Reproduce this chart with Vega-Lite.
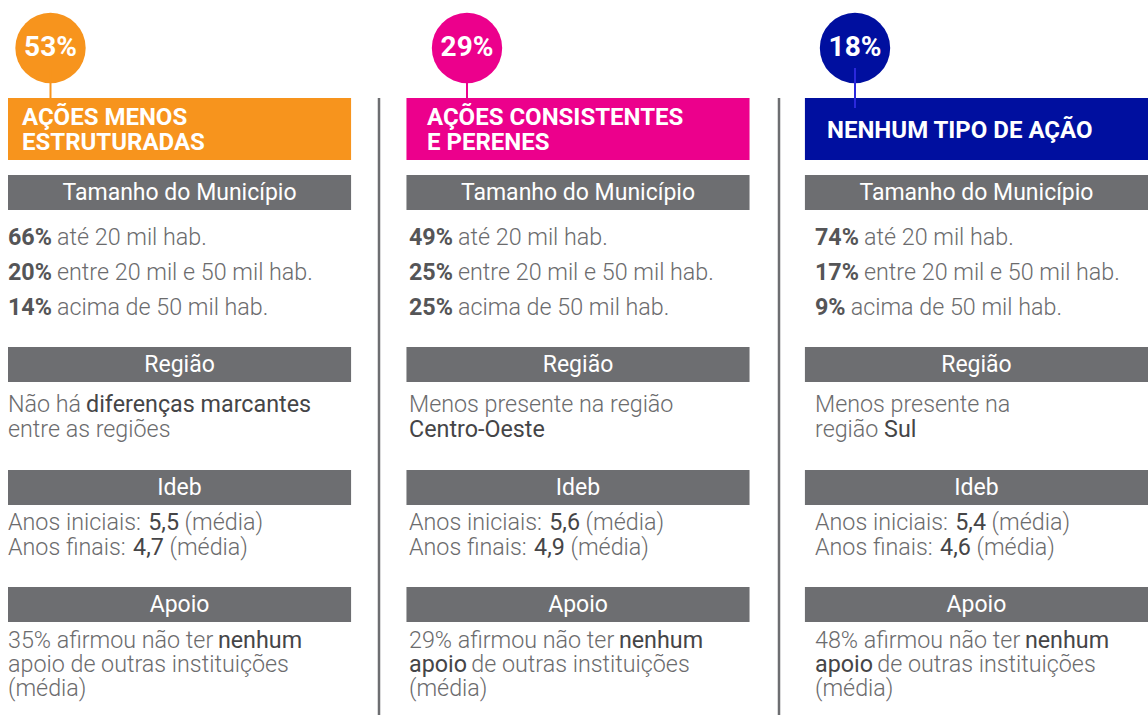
{
  "$schema": "https://vega.github.io/schema/vega-lite/v6.json",
  "width": 1148,
  "height": 715,
  "autosize": {"type": "none"},
  "padding": 0,
  "background": "white",
  "config": {
    "view": {"stroke": null},
    "font": "Roboto",
    "locale": {"number": {"decimal": ",", "thousands": ".", "grouping": [3], "currency": ["R$", ""]}}
  },
  "datasets": {
    "acoes": [
      {"col": "Ações menos estruturadas", "idx": 1, "share": 0.53, "title": "AÇÕES MENOS\nESTRUTURADAS"},
      {"col": "Ações consistentes e perenes", "idx": 2, "share": 0.29, "title": "AÇÕES CONSISTENTES\nE PERENES"},
      {"col": "Nenhum tipo de ação", "idx": 3, "share": 0.18, "title": "NENHUM TIPO DE AÇÃO"}
    ],
    "secoes": [
      {"col": "Ações menos estruturadas", "section": "Tamanho do Município", "row": 7, "row2": 9},
      {"col": "Ações menos estruturadas", "section": "Região", "row": 13, "row2": 15},
      {"col": "Ações menos estruturadas", "section": "Ideb", "row": 18, "row2": 20},
      {"col": "Ações menos estruturadas", "section": "Apoio", "row": 23, "row2": 25},
      {"col": "Ações consistentes e perenes", "section": "Tamanho do Município", "row": 7, "row2": 9},
      {"col": "Ações consistentes e perenes", "section": "Região", "row": 13, "row2": 15},
      {"col": "Ações consistentes e perenes", "section": "Ideb", "row": 18, "row2": 20},
      {"col": "Ações consistentes e perenes", "section": "Apoio", "row": 23, "row2": 25},
      {"col": "Nenhum tipo de ação", "section": "Tamanho do Município", "row": 7, "row2": 9},
      {"col": "Nenhum tipo de ação", "section": "Região", "row": 13, "row2": 15},
      {"col": "Nenhum tipo de ação", "section": "Ideb", "row": 18, "row2": 20},
      {"col": "Nenhum tipo de ação", "section": "Apoio", "row": 23, "row2": 25}
    ],
    "tamanho": [
      {"col": "Ações menos estruturadas", "idx": 1, "row": 10, "share": 0.66, "faixa": "até 20 mil hab."},
      {"col": "Ações menos estruturadas", "idx": 1, "row": 11, "share": 0.20, "faixa": "entre 20 mil e 50 mil hab."},
      {"col": "Ações menos estruturadas", "idx": 1, "row": 12, "share": 0.14, "faixa": "acima de 50 mil hab."},
      {"col": "Ações consistentes e perenes", "idx": 2, "row": 10, "share": 0.49, "faixa": "até 20 mil hab."},
      {"col": "Ações consistentes e perenes", "idx": 2, "row": 11, "share": 0.25, "faixa": "entre 20 mil e 50 mil hab."},
      {"col": "Ações consistentes e perenes", "idx": 2, "row": 12, "share": 0.25, "faixa": "acima de 50 mil hab."},
      {"col": "Nenhum tipo de ação", "idx": 3, "row": 10, "share": 0.74, "faixa": "até 20 mil hab."},
      {"col": "Nenhum tipo de ação", "idx": 3, "row": 11, "share": 0.17, "faixa": "entre 20 mil e 50 mil hab."},
      {"col": "Nenhum tipo de ação", "idx": 3, "row": 12, "share": 0.09, "faixa": "acima de 50 mil hab."}
    ],
    "ideb": [
      {"col": "Ações menos estruturadas", "idx": 1, "row": 21, "etapa": "Anos iniciais:", "media": 5.5},
      {"col": "Ações menos estruturadas", "idx": 1, "row": 22, "etapa": "Anos finais:", "media": 4.7},
      {"col": "Ações consistentes e perenes", "idx": 2, "row": 21, "etapa": "Anos iniciais:", "media": 5.6},
      {"col": "Ações consistentes e perenes", "idx": 2, "row": 22, "etapa": "Anos finais:", "media": 4.9},
      {"col": "Nenhum tipo de ação", "idx": 3, "row": 21, "etapa": "Anos iniciais:", "media": 5.4},
      {"col": "Nenhum tipo de ação", "idx": 3, "row": 22, "etapa": "Anos finais:", "media": 4.6}
    ],
    "textos": [
      {"col": "Ações menos estruturadas", "idx": 1, "row": 16, "a": "Não há", "b": "diferenças marcantes", "c": ""},
      {"col": "Ações menos estruturadas", "idx": 1, "row": 17, "a": "entre as regiões", "b": "", "c": ""},
      {"col": "Ações menos estruturadas", "idx": 1, "row": 26, "a": "35% afirmou não ter", "b": "nenhum", "c": ""},
      {"col": "Ações menos estruturadas", "idx": 1, "row": 27, "a": "apoio de outras instituições", "b": "", "c": ""},
      {"col": "Ações menos estruturadas", "idx": 1, "row": 28, "a": "(média)", "b": "", "c": ""},
      {"col": "Ações consistentes e perenes", "idx": 2, "row": 16, "a": "Menos presente na região", "b": "", "c": ""},
      {"col": "Ações consistentes e perenes", "idx": 2, "row": 17, "a": "", "b": "Centro-Oeste", "c": ""},
      {"col": "Ações consistentes e perenes", "idx": 2, "row": 26, "a": "29% afirmou não ter", "b": "nenhum", "c": ""},
      {"col": "Ações consistentes e perenes", "idx": 2, "row": 27, "a": "", "b": "apoio", "c": "de outras instituições"},
      {"col": "Ações consistentes e perenes", "idx": 2, "row": 28, "a": "(média)", "b": "", "c": ""},
      {"col": "Nenhum tipo de ação", "idx": 3, "row": 16, "a": "Menos presente na", "b": "", "c": ""},
      {"col": "Nenhum tipo de ação", "idx": 3, "row": 17, "a": "região", "b": "Sul", "c": ""},
      {"col": "Nenhum tipo de ação", "idx": 3, "row": 26, "a": "48% afirmou não ter", "b": "nenhum", "c": ""},
      {"col": "Nenhum tipo de ação", "idx": 3, "row": 27, "a": "", "b": "apoio", "c": "de outras instituições"},
      {"col": "Nenhum tipo de ação", "idx": 3, "row": 28, "a": "(média)", "b": "", "c": ""}
    ]
  },
  "resolve": {"scale": {"x": "independent", "y": "independent", "color": "independent"}},
  "layer": [
    {
      "data": {"name": "acoes"},
      "mark": {"type": "rect"},
      "encoding": {
        "x": {"field": "col", "type": "nominal", "axis": null, "scale": {"type": "band", "domain": ["Ações menos estruturadas", "Ações consistentes e perenes", "Nenhum tipo de ação"], "range": [8, 1148], "paddingInner": 0.139, "paddingOuter": 0}},
        "y": {"datum": 3, "type": "quantitative", "axis": null, "scale": {"domain": [0,1,2,3,4,5,6,7,8,9,10,11,12,13,14,15,16,17,18,19,20,21,22,23,24,25,26,27,28,29], "range": [0,48,68,98,108,130,160,175,192.5,210,237.5,272.5,307.5,347,364.5,382,405,430,470,487.5,505,523,548,587,604.5,622,641,665,689,715], "zero": false, "nice": false}},
        "y2": {"datum": 6},
        "color": {"field": "col", "type": "nominal", "legend": null, "scale": {"domain": ["Ações menos estruturadas", "Ações consistentes e perenes", "Nenhum tipo de ação"], "range": ["#F7941D", "#EC008C", "#000F9F"]}}
      }
    },
    {
      "data": {"name": "acoes"},
      "mark": {"type": "circle", "size": 4950, "opacity": 1},
      "encoding": {
        "x": {"field": "idx", "type": "quantitative", "axis": null, "scale": {"domain": [1, 2, 3], "range": [50.5, 467, 855], "zero": false, "nice": false}},
        "y": {"datum": 1, "type": "quantitative", "axis": null, "scale": {"domain": [0,1,2,3,4,5,6,7,8,9,10,11,12,13,14,15,16,17,18,19,20,21,22,23,24,25,26,27,28,29], "range": [0,48,68,98,108,130,160,175,192.5,210,237.5,272.5,307.5,347,364.5,382,405,430,470,487.5,505,523,548,587,604.5,622,641,665,689,715], "zero": false, "nice": false}},
        "color": {"field": "col", "type": "nominal", "legend": null, "scale": {"domain": ["Ações menos estruturadas", "Ações consistentes e perenes", "Nenhum tipo de ação"], "range": ["#F7941D", "#EC008C", "#000F9F"]}}
      }
    },
    {
      "data": {"name": "acoes"},
      "mark": {"type": "rule", "strokeWidth": 2},
      "encoding": {
        "x": {"field": "idx", "type": "quantitative", "axis": null, "scale": {"domain": [1, 2, 3], "range": [50.5, 467, 855], "zero": false, "nice": false}},
        "y": {"datum": 2, "type": "quantitative", "axis": null, "scale": {"domain": [0,1,2,3,4,5,6,7,8,9,10,11,12,13,14,15,16,17,18,19,20,21,22,23,24,25,26,27,28,29], "range": [0,48,68,98,108,130,160,175,192.5,210,237.5,272.5,307.5,347,364.5,382,405,430,470,487.5,505,523,548,587,604.5,622,641,665,689,715], "zero": false, "nice": false}},
        "y2": {"datum": 4},
        "color": {"field": "col", "type": "nominal", "legend": null, "scale": {"domain": ["Ações menos estruturadas", "Ações consistentes e perenes", "Nenhum tipo de ação"], "range": ["#F7941D", "#EC008C", "#2A28DC"]}}
      }
    },
    {
      "data": {"name": "acoes"},
      "mark": {"type": "text", "align": "center", "baseline": "middle", "fontSize": 28, "fontWeight": "bold", "color": "white"},
      "encoding": {
        "text": {"field": "share", "type": "quantitative", "format": ".0%"},
        "x": {"field": "idx", "type": "quantitative", "axis": null, "scale": {"domain": [1, 2, 3], "range": [50.5, 467, 855], "zero": false, "nice": false}},
        "y": {"datum": 1, "type": "quantitative", "axis": null, "scale": {"domain": [0,1,2,3,4,5,6,7,8,9,10,11,12,13,14,15,16,17,18,19,20,21,22,23,24,25,26,27,28,29], "range": [0,48,68,98,108,130,160,175,192.5,210,237.5,272.5,307.5,347,364.5,382,405,430,470,487.5,505,523,548,587,604.5,622,641,665,689,715], "zero": false, "nice": false}}
      }
    },
    {
      "data": {"name": "acoes"},
      "transform": [{"filter": "datum.idx < 3"}],
      "mark": {"type": "text", "align": "left", "baseline": "middle", "fontSize": 24, "fontWeight": "bold", "color": "white", "lineBreak": "\n", "lineHeight": 25, "dy": -12.5},
      "encoding": {
        "text": {"field": "title", "type": "nominal"},
        "x": {"field": "idx", "type": "quantitative", "axis": null, "scale": {"domain": [1, 2, 3], "range": [22, 427, 827], "zero": false, "nice": false}},
        "y": {"datum": 5, "type": "quantitative", "axis": null, "scale": {"domain": [0,1,2,3,4,5,6,7,8,9,10,11,12,13,14,15,16,17,18,19,20,21,22,23,24,25,26,27,28,29], "range": [0,48,68,98,108,130,160,175,192.5,210,237.5,272.5,307.5,347,364.5,382,405,430,470,487.5,505,523,548,587,604.5,622,641,665,689,715], "zero": false, "nice": false}}
      }
    },
    {
      "data": {"name": "acoes"},
      "transform": [{"filter": "datum.idx == 3"}],
      "mark": {"type": "text", "align": "left", "baseline": "middle", "fontSize": 24, "fontWeight": "bold", "color": "white", "dy": 1},
      "encoding": {
        "text": {"field": "title", "type": "nominal"},
        "x": {"field": "idx", "type": "quantitative", "axis": null, "scale": {"domain": [1, 2, 3], "range": [22, 427, 827], "zero": false, "nice": false}},
        "y": {"datum": 5, "type": "quantitative", "axis": null, "scale": {"domain": [0,1,2,3,4,5,6,7,8,9,10,11,12,13,14,15,16,17,18,19,20,21,22,23,24,25,26,27,28,29], "range": [0,48,68,98,108,130,160,175,192.5,210,237.5,272.5,307.5,347,364.5,382,405,430,470,487.5,505,523,548,587,604.5,622,641,665,689,715], "zero": false, "nice": false}}
      }
    },
    {
      "data": {"name": "acoes"},
      "transform": [{"filter": "datum.idx > 1"}],
      "mark": {"type": "rule", "strokeWidth": 2.5, "color": "#6D6E71"},
      "encoding": {
        "x": {"field": "idx", "type": "quantitative", "axis": null, "scale": {"domain": [2, 3], "range": [379, 779], "zero": false, "nice": false}},
        "y": {"datum": 3, "type": "quantitative", "axis": null, "scale": {"domain": [0,1,2,3,4,5,6,7,8,9,10,11,12,13,14,15,16,17,18,19,20,21,22,23,24,25,26,27,28,29], "range": [0,48,68,98,108,130,160,175,192.5,210,237.5,272.5,307.5,347,364.5,382,405,430,470,487.5,505,523,548,587,604.5,622,641,665,689,715], "zero": false, "nice": false}},
        "y2": {"datum": 29}
      }
    },
    {
      "data": {"name": "secoes"},
      "mark": {"type": "rect", "color": "#6D6E71"},
      "encoding": {
        "x": {"field": "col", "type": "nominal", "axis": null, "scale": {"type": "band", "domain": ["Ações menos estruturadas", "Ações consistentes e perenes", "Nenhum tipo de ação"], "range": [8, 1148], "paddingInner": 0.139, "paddingOuter": 0}},
        "y": {"field": "row", "type": "quantitative", "axis": null, "scale": {"domain": [0,1,2,3,4,5,6,7,8,9,10,11,12,13,14,15,16,17,18,19,20,21,22,23,24,25,26,27,28,29], "range": [0,48,68,98,108,130,160,175,192.5,210,237.5,272.5,307.5,347,364.5,382,405,430,470,487.5,505,523,548,587,604.5,622,641,665,689,715], "zero": false, "nice": false}},
        "y2": {"field": "row2"}
      }
    },
    {
      "data": {"name": "secoes"},
      "mark": {"type": "text", "align": "center", "baseline": "middle", "fontSize": 23, "fontWeight": 400, "color": "white", "dy": 17.5},
      "encoding": {
        "text": {"field": "section", "type": "nominal"},
        "x": {"field": "col", "type": "nominal", "axis": null, "scale": {"type": "band", "domain": ["Ações menos estruturadas", "Ações consistentes e perenes", "Nenhum tipo de ação"], "range": [8, 1148], "paddingInner": 0.139, "paddingOuter": 0}},
        "y": {"field": "row", "type": "quantitative", "axis": null, "scale": {"domain": [0,1,2,3,4,5,6,7,8,9,10,11,12,13,14,15,16,17,18,19,20,21,22,23,24,25,26,27,28,29], "range": [0,48,68,98,108,130,160,175,192.5,210,237.5,272.5,307.5,347,364.5,382,405,430,470,487.5,505,523,548,587,604.5,622,641,665,689,715], "zero": false, "nice": false}}
      }
    },
    {
      "data": {"name": "tamanho"},
      "mark": {"type": "text", "align": "left", "baseline": "middle", "fontSize": 23.3, "fontWeight": 700, "color": "#555557"},
      "encoding": {
        "text": {"field": "share", "type": "quantitative", "format": ".0%"},
        "x": {"field": "idx", "type": "quantitative", "axis": null, "scale": {"domain": [1, 2, 3], "range": [8, 409, 815], "zero": false, "nice": false}},
        "y": {"field": "row", "type": "quantitative", "axis": null, "scale": {"domain": [0,1,2,3,4,5,6,7,8,9,10,11,12,13,14,15,16,17,18,19,20,21,22,23,24,25,26,27,28,29], "range": [0,48,68,98,108,130,160,175,192.5,210,237.5,272.5,307.5,347,364.5,382,405,430,470,487.5,505,523,548,587,604.5,622,641,665,689,715], "zero": false, "nice": false}}
      }
    },
    {
      "data": {"name": "tamanho"},
      "transform": [{"filter": "datum.share >= 0.1"}],
      "mark": {"type": "text", "align": "left", "baseline": "middle", "fontSize": 23.3, "fontWeight": 300, "color": "#6B6B6D", "dx": 49},
      "encoding": {
        "text": {"field": "faixa", "type": "nominal"},
        "x": {"field": "idx", "type": "quantitative", "axis": null, "scale": {"domain": [1, 2, 3], "range": [8, 409, 815], "zero": false, "nice": false}},
        "y": {"field": "row", "type": "quantitative", "axis": null, "scale": {"domain": [0,1,2,3,4,5,6,7,8,9,10,11,12,13,14,15,16,17,18,19,20,21,22,23,24,25,26,27,28,29], "range": [0,48,68,98,108,130,160,175,192.5,210,237.5,272.5,307.5,347,364.5,382,405,430,470,487.5,505,523,548,587,604.5,622,641,665,689,715], "zero": false, "nice": false}}
      }
    },
    {
      "data": {"name": "tamanho"},
      "transform": [{"filter": "datum.share < 0.1"}],
      "mark": {"type": "text", "align": "left", "baseline": "middle", "fontSize": 23.3, "fontWeight": 300, "color": "#6B6B6D", "dx": 35.7},
      "encoding": {
        "text": {"field": "faixa", "type": "nominal"},
        "x": {"field": "idx", "type": "quantitative", "axis": null, "scale": {"domain": [1, 2, 3], "range": [8, 409, 815], "zero": false, "nice": false}},
        "y": {"field": "row", "type": "quantitative", "axis": null, "scale": {"domain": [0,1,2,3,4,5,6,7,8,9,10,11,12,13,14,15,16,17,18,19,20,21,22,23,24,25,26,27,28,29], "range": [0,48,68,98,108,130,160,175,192.5,210,237.5,272.5,307.5,347,364.5,382,405,430,470,487.5,505,523,548,587,604.5,622,641,665,689,715], "zero": false, "nice": false}}
      }
    },
    {
      "data": {"name": "ideb"},
      "mark": {"type": "text", "align": "left", "baseline": "middle", "fontSize": 23.3, "fontWeight": 300, "color": "#6B6B6D"},
      "encoding": {
        "text": {"field": "etapa", "type": "nominal"},
        "x": {"field": "idx", "type": "quantitative", "axis": null, "scale": {"domain": [1, 2, 3], "range": [8, 409, 815], "zero": false, "nice": false}},
        "y": {"field": "row", "type": "quantitative", "axis": null, "scale": {"domain": [0,1,2,3,4,5,6,7,8,9,10,11,12,13,14,15,16,17,18,19,20,21,22,23,24,25,26,27,28,29], "range": [0,48,68,98,108,130,160,175,192.5,210,237.5,272.5,307.5,347,364.5,382,405,430,470,487.5,505,523,548,587,604.5,622,641,665,689,715], "zero": false, "nice": false}}
      }
    },
    {
      "data": {"name": "ideb"},
      "transform": [{"filter": "datum.etapa == 'Anos iniciais:'"}],
      "mark": {"type": "text", "align": "left", "baseline": "middle", "fontSize": 23.3, "fontWeight": 400, "color": "#454547", "dx": 140.2},
      "encoding": {
        "text": {"field": "media", "type": "quantitative", "format": ".1f"},
        "x": {"field": "idx", "type": "quantitative", "axis": null, "scale": {"domain": [1, 2, 3], "range": [8, 409, 815], "zero": false, "nice": false}},
        "y": {"field": "row", "type": "quantitative", "axis": null, "scale": {"domain": [0,1,2,3,4,5,6,7,8,9,10,11,12,13,14,15,16,17,18,19,20,21,22,23,24,25,26,27,28,29], "range": [0,48,68,98,108,130,160,175,192.5,210,237.5,272.5,307.5,347,364.5,382,405,430,470,487.5,505,523,548,587,604.5,622,641,665,689,715], "zero": false, "nice": false}}
      }
    },
    {
      "data": {"name": "ideb"},
      "transform": [{"filter": "datum.etapa == 'Anos finais:'"}],
      "mark": {"type": "text", "align": "left", "baseline": "middle", "fontSize": 23.3, "fontWeight": 400, "color": "#454547", "dx": 125.1},
      "encoding": {
        "text": {"field": "media", "type": "quantitative", "format": ".1f"},
        "x": {"field": "idx", "type": "quantitative", "axis": null, "scale": {"domain": [1, 2, 3], "range": [8, 409, 815], "zero": false, "nice": false}},
        "y": {"field": "row", "type": "quantitative", "axis": null, "scale": {"domain": [0,1,2,3,4,5,6,7,8,9,10,11,12,13,14,15,16,17,18,19,20,21,22,23,24,25,26,27,28,29], "range": [0,48,68,98,108,130,160,175,192.5,210,237.5,272.5,307.5,347,364.5,382,405,430,470,487.5,505,523,548,587,604.5,622,641,665,689,715], "zero": false, "nice": false}}
      }
    },
    {
      "data": {"name": "ideb"},
      "transform": [{"filter": "datum.etapa == 'Anos iniciais:'"}],
      "mark": {"type": "text", "align": "left", "baseline": "middle", "fontSize": 23.3, "fontWeight": 300, "color": "#6B6B6D", "dx": 176.6},
      "encoding": {
        "text": {"value": "(média)"},
        "x": {"field": "idx", "type": "quantitative", "axis": null, "scale": {"domain": [1, 2, 3], "range": [8, 409, 815], "zero": false, "nice": false}},
        "y": {"field": "row", "type": "quantitative", "axis": null, "scale": {"domain": [0,1,2,3,4,5,6,7,8,9,10,11,12,13,14,15,16,17,18,19,20,21,22,23,24,25,26,27,28,29], "range": [0,48,68,98,108,130,160,175,192.5,210,237.5,272.5,307.5,347,364.5,382,405,430,470,487.5,505,523,548,587,604.5,622,641,665,689,715], "zero": false, "nice": false}}
      }
    },
    {
      "data": {"name": "ideb"},
      "transform": [{"filter": "datum.etapa == 'Anos finais:'"}],
      "mark": {"type": "text", "align": "left", "baseline": "middle", "fontSize": 23.3, "fontWeight": 300, "color": "#6B6B6D", "dx": 161.5},
      "encoding": {
        "text": {"value": "(média)"},
        "x": {"field": "idx", "type": "quantitative", "axis": null, "scale": {"domain": [1, 2, 3], "range": [8, 409, 815], "zero": false, "nice": false}},
        "y": {"field": "row", "type": "quantitative", "axis": null, "scale": {"domain": [0,1,2,3,4,5,6,7,8,9,10,11,12,13,14,15,16,17,18,19,20,21,22,23,24,25,26,27,28,29], "range": [0,48,68,98,108,130,160,175,192.5,210,237.5,272.5,307.5,347,364.5,382,405,430,470,487.5,505,523,548,587,604.5,622,641,665,689,715], "zero": false, "nice": false}}
      }
    },
    {
      "data": {"name": "textos"},
      "transform": [{"filter": "datum.a != ''"}],
      "mark": {"type": "text", "align": "left", "baseline": "middle", "fontSize": 23.3, "fontWeight": 300, "color": "#6B6B6D"},
      "encoding": {
        "text": {"field": "a", "type": "nominal"},
        "x": {"field": "idx", "type": "quantitative", "axis": null, "scale": {"domain": [1, 2, 3], "range": [8, 409, 815], "zero": false, "nice": false}},
        "y": {"field": "row", "type": "quantitative", "axis": null, "scale": {"domain": [0,1,2,3,4,5,6,7,8,9,10,11,12,13,14,15,16,17,18,19,20,21,22,23,24,25,26,27,28,29], "range": [0,48,68,98,108,130,160,175,192.5,210,237.5,272.5,307.5,347,364.5,382,405,430,470,487.5,505,523,548,587,604.5,622,641,665,689,715], "zero": false, "nice": false}}
      }
    },
    {
      "data": {"name": "textos"},
      "transform": [{"filter": "datum.a == '' && datum.b != ''"}],
      "mark": {"type": "text", "align": "left", "baseline": "middle", "fontSize": 23.3, "fontWeight": 400, "color": "#454547"},
      "encoding": {
        "text": {"field": "b", "type": "nominal"},
        "x": {"field": "idx", "type": "quantitative", "axis": null, "scale": {"domain": [1, 2, 3], "range": [8, 409, 815], "zero": false, "nice": false}},
        "y": {"field": "row", "type": "quantitative", "axis": null, "scale": {"domain": [0,1,2,3,4,5,6,7,8,9,10,11,12,13,14,15,16,17,18,19,20,21,22,23,24,25,26,27,28,29], "range": [0,48,68,98,108,130,160,175,192.5,210,237.5,272.5,307.5,347,364.5,382,405,430,470,487.5,505,523,548,587,604.5,622,641,665,689,715], "zero": false, "nice": false}}
      }
    },
    {
      "data": {"name": "textos"},
      "transform": [{"filter": "datum.a == 'Não há'"}],
      "mark": {"type": "text", "align": "left", "baseline": "middle", "fontSize": 23.3, "fontWeight": 400, "color": "#454547", "dx": 78},
      "encoding": {
        "text": {"field": "b", "type": "nominal"},
        "x": {"field": "idx", "type": "quantitative", "axis": null, "scale": {"domain": [1, 2, 3], "range": [8, 409, 815], "zero": false, "nice": false}},
        "y": {"field": "row", "type": "quantitative", "axis": null, "scale": {"domain": [0,1,2,3,4,5,6,7,8,9,10,11,12,13,14,15,16,17,18,19,20,21,22,23,24,25,26,27,28,29], "range": [0,48,68,98,108,130,160,175,192.5,210,237.5,272.5,307.5,347,364.5,382,405,430,470,487.5,505,523,548,587,604.5,622,641,665,689,715], "zero": false, "nice": false}}
      }
    },
    {
      "data": {"name": "textos"},
      "transform": [{"filter": "indexof(datum.a, 'afirmou') >= 0"}],
      "mark": {"type": "text", "align": "left", "baseline": "middle", "fontSize": 23.3, "fontWeight": 400, "color": "#454547", "dx": 209.9},
      "encoding": {
        "text": {"field": "b", "type": "nominal"},
        "x": {"field": "idx", "type": "quantitative", "axis": null, "scale": {"domain": [1, 2, 3], "range": [8, 409, 815], "zero": false, "nice": false}},
        "y": {"field": "row", "type": "quantitative", "axis": null, "scale": {"domain": [0,1,2,3,4,5,6,7,8,9,10,11,12,13,14,15,16,17,18,19,20,21,22,23,24,25,26,27,28,29], "range": [0,48,68,98,108,130,160,175,192.5,210,237.5,272.5,307.5,347,364.5,382,405,430,470,487.5,505,523,548,587,604.5,622,641,665,689,715], "zero": false, "nice": false}}
      }
    },
    {
      "data": {"name": "textos"},
      "transform": [{"filter": "datum.a == 'região'"}],
      "mark": {"type": "text", "align": "left", "baseline": "middle", "fontSize": 23.3, "fontWeight": 400, "color": "#454547", "dx": 69.1},
      "encoding": {
        "text": {"field": "b", "type": "nominal"},
        "x": {"field": "idx", "type": "quantitative", "axis": null, "scale": {"domain": [1, 2, 3], "range": [8, 409, 815], "zero": false, "nice": false}},
        "y": {"field": "row", "type": "quantitative", "axis": null, "scale": {"domain": [0,1,2,3,4,5,6,7,8,9,10,11,12,13,14,15,16,17,18,19,20,21,22,23,24,25,26,27,28,29], "range": [0,48,68,98,108,130,160,175,192.5,210,237.5,272.5,307.5,347,364.5,382,405,430,470,487.5,505,523,548,587,604.5,622,641,665,689,715], "zero": false, "nice": false}}
      }
    },
    {
      "data": {"name": "textos"},
      "transform": [{"filter": "datum.b == 'apoio'"}],
      "mark": {"type": "text", "align": "left", "baseline": "middle", "fontSize": 23.3, "fontWeight": 300, "color": "#6B6B6D", "dx": 62.3},
      "encoding": {
        "text": {"field": "c", "type": "nominal"},
        "x": {"field": "idx", "type": "quantitative", "axis": null, "scale": {"domain": [1, 2, 3], "range": [8, 409, 815], "zero": false, "nice": false}},
        "y": {"field": "row", "type": "quantitative", "axis": null, "scale": {"domain": [0,1,2,3,4,5,6,7,8,9,10,11,12,13,14,15,16,17,18,19,20,21,22,23,24,25,26,27,28,29], "range": [0,48,68,98,108,130,160,175,192.5,210,237.5,272.5,307.5,347,364.5,382,405,430,470,487.5,505,523,548,587,604.5,622,641,665,689,715], "zero": false, "nice": false}}
      }
    }
  ]
}
